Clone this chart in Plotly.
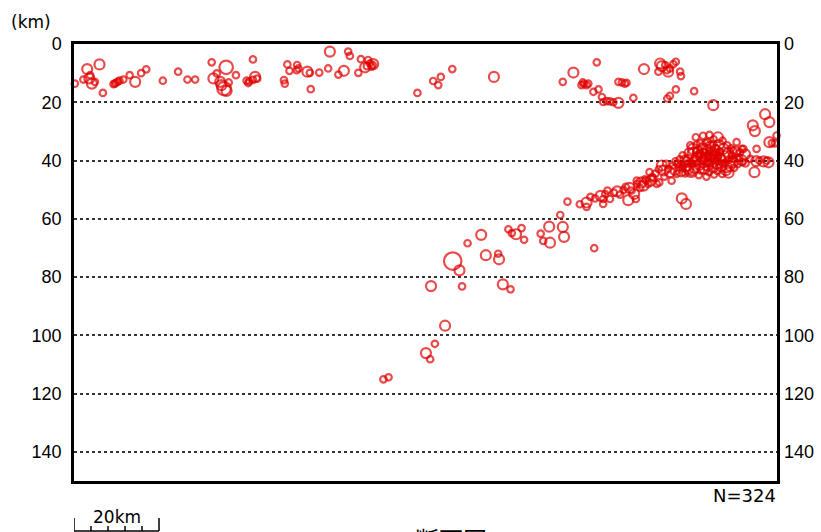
import plotly.graph_objects as go

# ---- data: (distance along section km, depth km, magnitude class 1..4) ----
shallow_west = [
    (0.2, 13.6, 1), (3.1, 8.6, 2), (2.2, 12.2, 1), (3.6, 11.8, 2), (4.2, 13.6, 2), (4.9, 13.0, 1),
    (3.8, 10.7, 1), (6.0, 7.0, 2), (6.8, 16.8, 1), (9.3, 13.8, 1), (9.9, 13.3, 1), (10.3, 12.9, 1),
    (10.7, 12.6, 1), (9.6, 13.6, 1), (11.6, 12.2, 1), (13.1, 10.7, 1), (14.4, 13.0, 2), (15.8, 10.0, 1),
    (17.0, 8.7, 1), (20.9, 12.6, 1), (24.5, 9.5, 1), (26.7, 12.2, 1), (28.5, 12.2, 1), (32.4, 6.3, 1),
    (32.8, 11.8, 2), (33.6, 10.1, 1), (35.8, 8.0, 3), (34.4, 13.0, 2), (34.7, 14.1, 2), (35.3, 15.3, 3),
    (35.9, 16.1, 2), (36.4, 13.2, 1), (38.1, 10.7, 1), (40.6, 12.6, 1), (41.2, 12.8, 1), (42.1, 12.3, 1),
    (43.1, 11.9, 1), (41.0, 13.4, 1), (42.1, 5.3, 1), (42.6, 11.3, 2),
]
shallow_mid = [
    (49.4, 12.4, 1), (49.6, 13.6, 1), (50.2, 7.0, 1), (50.7, 9.2, 1), (52.5, 7.2, 1), (52.8, 8.4, 1),
    (52.4, 9.0, 1), (54.9, 9.5, 2), (55.5, 9.9, 1), (55.7, 15.5, 1), (57.7, 9.8, 1), (59.8, 8.4, 1),
    (60.2, 2.6, 2), (62.2, 10.5, 1), (63.5, 9.2, 2), (64.5, 2.6, 1), (64.9, 4.1, 1), (66.9, 9.9, 1),
    (67.5, 5.2, 1), (68.5, 8.0, 2), (69.2, 5.5, 1), (69.6, 6.7, 1), (70.3, 7.2, 1), (70.0, 7.8, 1),
    (68.9, 7.6, 1), (70.4, 6.9, 2), (80.8, 16.8, 1), (84.5, 12.7, 1), (85.7, 14.1, 1), (86.3, 11.3, 1),
    (89.0, 8.6, 1), (98.8, 11.3, 2),
]
shallow_east = [
    (115.0, 13.0, 1), (117.5, 9.8, 2), (119.7, 13.2, 1), (120.0, 13.7, 1), (120.6, 14.1, 1), (121.0, 13.6, 1),
    (119.4, 14.1, 1), (122.2, 16.4, 1), (123.4, 15.6, 1), (123.0, 6.3, 1), (124.2, 18.2, 1), (124.5, 19.9, 1),
    (125.3, 19.6, 1), (126.1, 19.7, 1), (126.9, 20.0, 1), (128.1, 20.2, 2), (128.1, 13.0, 1), (128.9, 13.2, 1),
    (129.6, 13.6, 1), (130.0, 13.3, 1), (131.6, 18.5, 1), (134.1, 8.6, 2), (137.5, 9.5, 1), (137.9, 6.7, 2),
    (138.3, 7.6, 2), (139.1, 7.2, 1), (139.5, 9.0, 1), (139.8, 9.5, 2), (140.2, 8.4, 1), (141.0, 6.9, 1),
    (141.6, 6.1, 1), (142.6, 9.5, 1), (142.8, 11.0, 1), (139.6, 18.7, 1), (140.2, 17.8, 1), (141.6, 15.6, 1),
    (145.9, 16.2, 1), (150.4, 21.0, 2),
]
deep_slab = [
    (72.8, 115.1, 1), (74.0, 114.4, 1), (82.8, 106.1, 2), (83.8, 108.2, 1), (84.9, 102.9, 1), (87.3, 96.7, 2),
    (84.0, 83.1, 2), (91.3, 83.2, 1), (89.1, 74.5, 4), (90.7, 77.7, 2), (92.6, 68.4, 1), (95.8, 65.5, 2),
    (96.9, 72.5, 2), (99.8, 72.0, 1), (100.0, 73.9, 2), (100.9, 82.5, 2), (102.7, 84.2, 1), (102.2, 63.6, 1),
    (103.0, 64.9, 1), (104.0, 65.3, 2), (105.3, 63.2, 1), (105.9, 67.2, 1), (109.8, 65.1, 1), (110.4, 67.6, 1),
    (111.8, 62.7, 2), (112.0, 68.2, 2), (115.0, 62.8, 2), (115.3, 66.2, 2), (114.4, 58.7, 1), (122.4, 70.1, 1),
]
slab_band = [
    (116.1, 54.1, 1), (120.6, 54.4, 2), (120.6, 55.9, 1), (123.9, 52.1, 2), (124.5, 53.2, 1), (126.1, 53.2, 1),
    (124.5, 54.9, 1), (125.5, 50.3, 1), (127.8, 50.6, 2), (128.5, 51.7, 1), (129.3, 50.1, 1), (130.4, 53.6, 2),
    (130.7, 49.4, 2), (131.2, 50.3, 1), (131.8, 51.5, 2), (132.2, 53.2, 1), (132.5, 48.0, 1), (133.2, 49.4, 1),
    (134.0, 48.6, 2), (134.6, 46.9, 1), (135.1, 48.0, 1), (135.7, 46.9, 2), (136.3, 46.0, 1), (137.1, 48.0, 1),
    (137.7, 47.5, 1), (132.4, 46.9, 1), (135.4, 44.0, 1), (143.0, 53.0, 2), (144.0, 54.9, 2), (136.8, 44.5, 1),
    (137.6, 43.0, 1), (138.9, 45.5, 1), (136.0, 45.6, 1), (134.3, 46.5, 1), (133.5, 47.5, 2), (129.8, 49.0, 1),
    (127.0, 51.0, 1), (125.0, 51.5, 1), (122.6, 53.0, 1), (119.0, 55.0, 1), (121.5, 52.5, 1),
    (138.3, 41.7, 2), (138.7, 43.4, 2), (139.3, 41.1, 1), (139.8, 42.9, 1), (140.2, 44.0, 2), (140.9, 41.7, 1),
    (141.4, 43.2, 2), (141.8, 44.6, 1), (142.4, 42.3, 1), (142.8, 43.7, 2), (143.4, 41.7, 1), (143.8, 44.4, 1),
    (144.5, 42.9, 2), (145.1, 41.1, 1), (145.3, 44.0, 1), (140.6, 46.9, 1),
]
cluster_core = [
    (145.6, 36.0, 2), (145.9, 38.0, 3), (146.2, 40.2, 2), (146.0, 42.5, 2), (146.5, 34.5, 1), (146.8, 37.0, 2),
    (147.0, 39.2, 3), (147.2, 41.5, 2), (147.5, 43.4, 1), (147.8, 35.8, 2), (148.0, 38.3, 3), (148.1, 40.6, 2),
    (148.3, 42.8, 2), (148.6, 33.9, 1), (148.8, 36.9, 2), (149.0, 39.5, 3), (149.2, 41.8, 2), (149.4, 44.0, 1),
    (149.7, 35.2, 2), (149.9, 37.8, 2), (150.1, 40.1, 3), (150.3, 42.4, 2), (150.5, 32.7, 1), (150.8, 36.3, 2),
    (151.0, 38.8, 2), (151.2, 41.2, 2), (151.4, 43.6, 1), (151.7, 34.6, 2), (151.9, 37.2, 1), (152.1, 39.7, 2),
    (152.3, 42.0, 2), (152.6, 33.2, 1), (152.8, 36.0, 2), (153.0, 38.4, 2), (153.2, 40.9, 1), (153.4, 43.3, 2),
    (153.7, 34.8, 1), (153.9, 37.4, 2), (154.1, 39.6, 1), (154.3, 41.8, 2), (154.6, 35.8, 1), (154.8, 38.3, 1),
    (155.0, 40.6, 2), (155.3, 42.5, 1), (155.6, 36.9, 2), (155.9, 39.1, 1), (156.2, 41.2, 1), (156.7, 37.2, 1),
    (157.0, 39.8, 2), (157.5, 36.0, 1), (158.0, 41.0, 1), (144.8, 37.5, 2), (144.6, 39.8, 2), (145.0, 34.8, 1),
    (146.3, 32.0, 1), (148.0, 31.5, 1), (149.5, 31.2, 1), (151.5, 32.0, 2), (147.0, 45.0, 1), (148.8, 45.5, 1),
    (150.6, 44.8, 1), (152.5, 44.6, 1), (154.0, 44.2, 2), (143.2, 38.2, 1), (143.8, 40.0, 2), (142.5, 39.6, 1),
    (144.0, 42.0, 2), (145.2, 43.3, 3),
    (146.4, 36.8, 1), (146.9, 38.6, 1), (147.4, 37.5, 1), (147.6, 40.0, 1), (148.2, 37.2, 1), (148.5, 39.0, 1),
    (148.9, 41.0, 1), (149.3, 38.4, 1), (149.6, 36.6, 1), (149.8, 40.8, 1), (150.2, 38.0, 1), (150.6, 39.4, 1),
    (150.9, 37.4, 1), (151.3, 40.2, 1), (151.6, 38.5, 1), (152.0, 36.8, 1), (152.4, 38.9, 1), (152.7, 41.3, 1),
    (147.3, 34.0, 1), (149.1, 33.6, 1), (150.4, 34.4, 1), (151.0, 35.7, 1), (146.0, 39.1, 1), (145.5, 41.2, 1),
    (144.3, 41.0, 1), (143.1, 42.5, 1), (142.0, 41.2, 1), (141.5, 40.3, 1),
]
right_edge = [
    (162.6, 24.1, 2), (163.6, 26.8, 2), (159.7, 27.9, 2), (160.2, 29.9, 2), (165.3, 31.4, 1), (163.6, 33.7, 2),
    (164.2, 34.0, 1), (164.9, 34.1, 1), (160.6, 36.0, 1), (157.9, 37.9, 2), (160.5, 40.2, 2), (161.2, 40.0, 1),
    (162.2, 40.3, 2), (163.0, 40.0, 1), (160.1, 44.0, 2), (157.3, 40.6, 1), (156.5, 38.9, 1), (155.1, 36.6, 1),
    (155.9, 33.7, 1), (157.1, 36.0, 1), (159.1, 39.4, 1), (155.1, 39.4, 1), (153.6, 42.3, 2), (163.4, 40.6, 2),
]

depth_ticks = [0, 20, 40, 60, 80, 100, 120, 140]
size_of_class = {1: 6.5, 2: 10, 3: 13.5, 4: 17.5}

events = shallow_west + shallow_mid + shallow_east + deep_slab + slab_band + cluster_core + right_edge
dist = [e[0] for e in events]
depth = [e[1] for e in events]
sizes = [size_of_class[e[2]] for e in events]

RED = "#e00000"
FONT = "Liberation Sans"
LABEL_FONT = "DejaVu Sans"

fig = go.Figure()
fig.add_trace(go.Scatter(
    x=dist, y=depth, mode="markers",
    marker=dict(symbol="circle-open", size=sizes, color=RED, line=dict(width=2.2, color=RED)),
    cliponaxis=False, showlegend=False, hoverinfo="skip",
))
fig.add_trace(go.Scatter(x=[None], y=[None], yaxis="y2", showlegend=False, hoverinfo="skip"))

X_MAX = 165.4
fig.update_layout(
    width=821, height=532,
    margin=dict(l=74, r=44, t=44, b=51, autoexpand=False),
    paper_bgcolor="white", plot_bgcolor="white",
    font=dict(family=FONT, size=18, color="black"),
    xaxis=dict(range=[0, X_MAX], showticklabels=False, showgrid=False, zeroline=False,
               showline=True, mirror=True, linecolor="black", linewidth=2.5, ticks=""),
    yaxis=dict(range=[150, 0], tickvals=depth_ticks, showgrid=True, gridcolor="#333333",
               griddash="dot", gridwidth=1.5, zeroline=False, showline=True, mirror=True,
               linecolor="black", linewidth=2.5, ticks="", ticklabelstandoff=6,
               tickfont=dict(size=18), automargin=False),
    yaxis2=dict(range=[150, 0], tickvals=depth_ticks, overlaying="y", side="right",
                showgrid=False, zeroline=False, showline=False, ticks="", ticklabelstandoff=6,
                tickfont=dict(size=18), automargin=False),
)

fig.add_annotation(text="(km)", xref="paper", yref="paper", x=-0.061, y=1.05,
                   showarrow=False, font=dict(size=17, family=LABEL_FONT), xanchor="center", yanchor="middle")
fig.add_annotation(text="N=324", xref="paper", yref="paper", x=1.0014, y=-0.034,
                   showarrow=False, font=dict(size=18, family=LABEL_FONT), xanchor="right", yanchor="middle")
fig.add_annotation(text="20km", xref="paper", yref="paper", x=0.0612, y=-0.082,
                   showarrow=False, font=dict(size=17, family=LABEL_FONT), xanchor="center", yanchor="middle")
fig.add_annotation(text="断面図", xref="paper", yref="paper", x=0.536, y=-0.087,
                   showarrow=False, font=dict(size=24, family="Noto Sans CJK JP"),
                   xanchor="center", yanchor="top")

# scale bar (20 km with 4 km divisions)
scale_len = 20
scale_div = [4, 8, 12, 16]
bar = dict(color="black", width=1.5)
y_base, y_tall, y_short = -0.1144, -0.0847, -0.103
fig.add_shape(type="line", xref="x", yref="paper", x0=0, x1=scale_len, y0=y_base, y1=y_base, line=bar)
for xv in [0, scale_len]:
    fig.add_shape(type="line", xref="x", yref="paper", x0=xv, x1=xv, y0=y_base, y1=y_tall, line=bar)
for xv in scale_div:
    fig.add_shape(type="line", xref="x", yref="paper", x0=xv, x1=xv, y0=y_base, y1=y_short, line=bar)

fig.write_html("out.html", config={"displayModeBar": False},
               post_script="document.body.style.margin='0';document.body.style.overflow='hidden';")
